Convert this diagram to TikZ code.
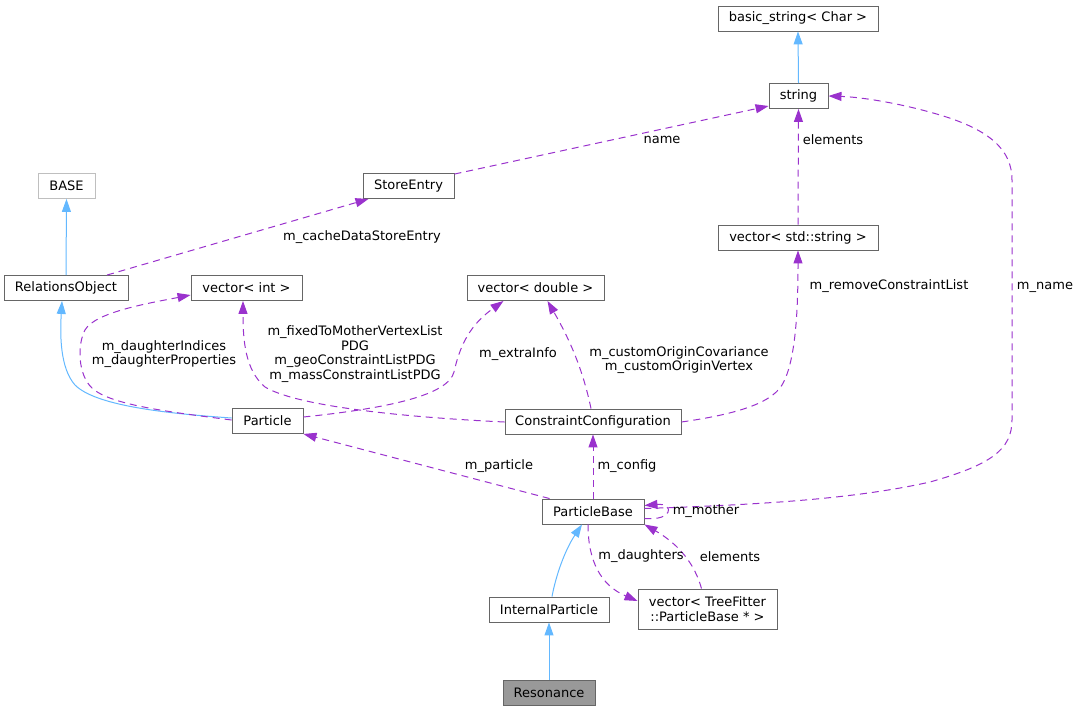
\documentclass[tikz,border=0pt]{standalone}
\usepackage{fontspec}
\setmainfont{DejaVu Sans}
\usetikzlibrary{arrows.meta,calc}
\definecolor{inh}{HTML}{63B8FF}
\definecolor{use}{HTML}{9A32CD}
\definecolor{bord}{HTML}{666666}
\definecolor{bordl}{HTML}{BFBFBF}
\definecolor{resgray}{HTML}{999999}
\tikzset{
  box/.style={draw=bord, fill=white, line width=0.9pt, inner sep=0pt, minimum height=25pt, font=\fontsize{13}{14.5}\selectfont, text=black},
  lbl/.style={font=\fontsize{13}{14.5}\selectfont, align=center, inner sep=0pt, text=black},
  inhe/.style={draw=inh, line width=1pt, -{Triangle[length=13pt,width=9pt]}},
  usee/.style={draw=use, line width=1pt, dash pattern=on 7pt off 5pt, -{Triangle[length=13pt,width=9pt]}}
}
\begin{document}
\begin{tikzpicture}[x=1pt,y=-1pt]
\useasboundingbox (0,0) rectangle (1079,712);
% nodes
\node[box, minimum width=160pt] (bs) at (798,18.5) {basic\_string< Char >};
\node[box, minimum width=59pt] (str) at (798.5,96) {string};
\node[box, minimum width=91pt] (se) at (408.5,186) {StoreEntry};
\node[box, draw=bordl, minimum width=57pt] (base) at (66.5,186) {BASE};
\node[box, minimum width=124pt] (ro) at (66,288) {RelationsObject};
\node[box, minimum width=111pt] (vi) at (246.5,288) {vector< int >};
\node[box, minimum width=137pt] (vd) at (535.5,288) {vector< double >};
\node[box, minimum width=160pt] (vs) at (798,237.5) {vector< std::string >};
\node[box, minimum width=71pt] (pa) at (267.5,421) {Particle};
\node[box, minimum width=176pt] (cc) at (593,421.5) {ConstraintConfiguration};
\node[box, minimum width=102pt] (pb) at (593,511.5) {ParticleBase};
\node[box, minimum width=120pt] (ip) at (549,609.5) {InternalParticle};
\node[box, minimum width=139pt, minimum height=40pt, align=center] (vt) at (707.5,609) {vector< TreeFitter\\::ParticleBase * >};
\node[box, fill=resgray, minimum width=92pt] (res) at (549,693) {Resonance};
% inheritance
\draw[inhe] (str.north) -- (bs.south);
\draw[inhe] (ro.north) -- (base.south);
\draw[inhe] ($(pa.west)+(0,-3)$) .. controls (160,413) and (95,405) .. (75,385) .. controls (60,368) and (60,335) .. ($(ro.south)+(-4,0)$);
\draw[inhe] ($(ip.north)+(3,0)$) .. controls (556,575) and (565,550) .. ($(pb.south)+(-11,0)$);
\draw[inhe] (res.north) -- (ip.south);
% usage
\draw[usee] ($(ro.north)+(41,0)$) -- ($(se.south)+(-40,0)$);
\draw[usee] ($(se.north east)+(0,1)$) -- ($(str.west)+(0,10)$);
\draw[usee] (vs.north) -- (str.south);
\draw[usee] ($(cc.east)+(0,0.5)$) .. controls (730,415) and (770,405) .. (782,385) .. controls (797,360) and (798,300) .. (vs.south);
\draw[usee] ($(pb.east)+(0,-3)$) .. controls (750,505) and (850,500) .. (930,482) .. controls (990,465) and (1012,450) .. (1012,420) -- (1012,180) .. controls (1012,150) and (990,130) .. (940,115) .. controls (900,103) and (860,97) .. (str.east);
\draw[usee] ($(pa.west)+(0,-1)$) .. controls (170,412) and (110,405) .. (92,388) .. controls (78,375) and (77,345) .. (85,330) .. controls (95,312) and (150,303) .. ($(vi.west)+(0,7)$);
\draw[usee] ($(cc.west)+(0,0.5)$) .. controls (420,418) and (300,408) .. (265,387) .. controls (245,370) and (243,340) .. ($(vi.south)+(-3.5,0)$);
\draw[usee] ($(pa.east)+(0,-4)$) .. controls (390,408) and (448,395) .. (454,372) .. controls (460,345) and (470,325) .. ($(vd.south)+(-32,0)$);
\draw[usee] ($(cc.north)+(-2,0)$) .. controls (583,370) and (570,340) .. ($(vd.south)+(12,0)$);
\draw[usee] ($(pb.north west)+(8,0)$) -- (pa.south east);
\draw[usee] (pb.north) -- (cc.south);
\draw[usee] ($(pb.east)+(0,7)$) .. controls (674,521) and (674,503) .. ($(pb.east)+(0,-6)$);
\draw[usee] ($(pb.south)+(-5,0)$) .. controls (588,560) and (600,585) .. ($(vt.west)+(0,-8)$);
\draw[usee] ($(vt.north)+(-6,0)$) .. controls (695,565) and (680,545) .. (pb.south east);
% labels
\node[lbl] (l1) at (362,237) {m\_cacheDataStoreEntry};
\node[lbl] (l2) at (662,140) {name};
\node[lbl] (l3) at (833,140) {elements};
\node[lbl] (l4) at (889,286) {m\_removeConstraintList};
\node[lbl] (l5) at (1045,287) {m\_name};
\node[lbl] (l6) at (164,354) {m\_daughterIndices\\m\_daughterProperties};
\node[lbl] (l7) at (355,354) {m\_fixedToMotherVertexList\\PDG\\m\_geoConstraintListPDG\\m\_massConstraintListPDG};
\node[lbl] (l8) at (518,354) {m\_extraInfo};
\node[lbl] (l9) at (679,360) {m\_customOriginCovariance\\m\_customOriginVertex};
\node[lbl] (l10) at (499,466) {m\_particle};
\node[lbl] (l11) at (627,466) {m\_config};
\node[lbl] (l12) at (706,511) {m\_mother};
\node[lbl] (l13) at (641,556) {m\_daughters};
\node[lbl] (l14) at (730,557) {elements};
\end{tikzpicture}
\end{document}
